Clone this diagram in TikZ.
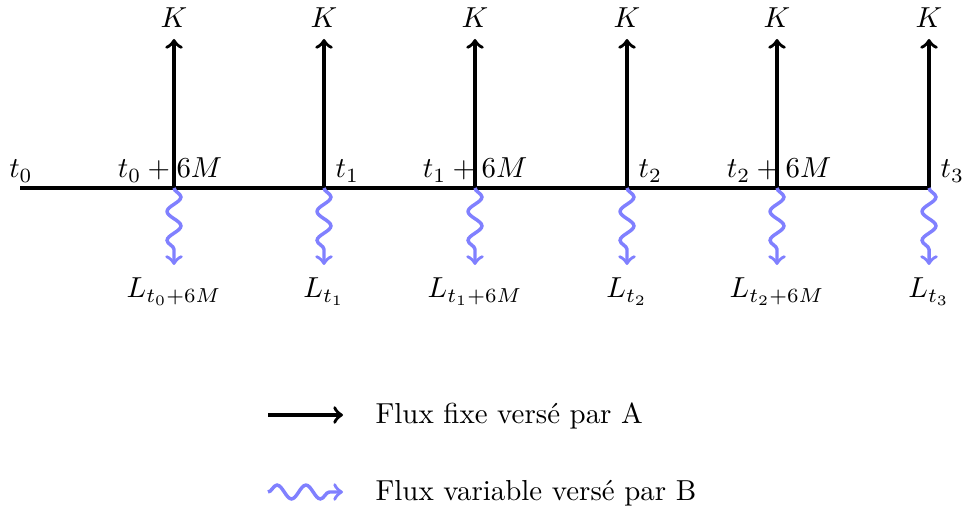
\documentclass[tikz,border=0pt]{standalone}
\usetikzlibrary{decorations.pathmorphing,calc}
\begin{document}
\begin{tikzpicture}[x=0.346pt,y=-0.346pt,
  axis/.style={line width=1.2pt},
  fixarrow/.style={line width=1.2pt,->},
  vararrow/.style={line width=1.2pt,->,blue!50,decorate,
    decoration={snake,amplitude=2.4pt,segment length=10pt,post length=2pt}},
  lbl/.style={inner sep=0pt}]
\useasboundingbox (0,0) rectangle (962,511);
% timeline
\coordinate (s) at (20,188);
\coordinate (p1) at (174,188);
\coordinate (p2) at (324,188);
\coordinate (p3) at (475,188);
\coordinate (p4) at (627,188);
\coordinate (p5) at (777,188);
\coordinate (p6) at (929,188);
\draw[axis] (s) -- (p6);
\foreach \i in {1,...,6}{
  \coordinate (u\i) at ($(p\i)+(0,-149)$);
  \coordinate (d\i) at ($(p\i)+(0,77)$);
  \node[lbl,anchor=base] (k\i) at ($(p\i)+(0,-160)$) {$K$};
  \draw[fixarrow] (p\i) -- (u\i);
  \draw[vararrow] (p\i) -- (d\i);
}
% time labels
\node[lbl,anchor=base] (t0) at (21,178) {$t_0$};
\node[lbl,anchor=base] (t0m) at (170,178) {$t_0+6M$};
\node[lbl,anchor=base west] (t1) at (335,178) {$t_1$};
\node[lbl,anchor=base] (t1m) at (475,178) {$t_1+6M$};
\node[lbl,anchor=base west] (t2) at (638,178) {$t_2$};
\node[lbl,anchor=base] (t2m) at (779,178) {$t_2+6M$};
\node[lbl,anchor=base west] (t3) at (940,178) {$t_3$};
% L labels
\node[lbl,anchor=base] (l1) at (174,298) {$L_{t_0+6M}$};
\node[lbl,anchor=base] (l2) at (324,298) {$L_{t_1}$};
\node[lbl,anchor=base] (l3) at (475,298) {$L_{t_1+6M}$};
\node[lbl,anchor=base] (l4) at (627,298) {$L_{t_2}$};
\node[lbl,anchor=base] (l5) at (777,298) {$L_{t_2+6M}$};
\node[lbl,anchor=base] (l6) at (929,298) {$L_{t_3}$};
% legend
\coordinate (la) at (268,415);
\coordinate (lb) at (343,415);
\draw[fixarrow] (la) -- (lb);
\node[lbl,anchor=base west] (lt1) at (375,423) {Flux fixe versé par A};
\coordinate (lc) at (268,492);
\coordinate (ld) at (343,492);
\draw[vararrow] (lc) -- (ld);
\node[lbl,anchor=base west] (lt2) at (375,500) {Flux variable versé par B};
\end{tikzpicture}
\end{document}
